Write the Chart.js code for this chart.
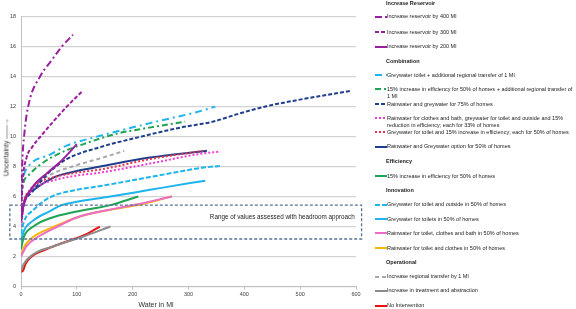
<!DOCTYPE html>
<html><head><meta charset="utf-8">
<script src="https://cdn.jsdelivr.net/npm/chart.js@4/dist/chart.umd.min.js"></script>
<style>
html,body{margin:0;padding:0;background:#fff;}
#wrap{position:relative;width:576px;height:309px;overflow:hidden;font-family:'Liberation Sans',Arial,sans-serif;}
#c{position:absolute;left:0;top:0;}
.lg{position:absolute;left:387px;font-size:5.5px;color:#222;line-height:7px;white-space:pre;}
.hd{font-weight:bold;left:386px;}
.sw{position:absolute;left:375px;}
#xt{position:absolute;left:156px;top:304px;transform:translate(-50%,-50%);font-size:7px;color:#333;white-space:nowrap;}
#yt{position:absolute;left:6px;top:147px;transform:translate(-50%,-50%) rotate(-90deg);font-size:7px;color:#333;white-space:nowrap;}
</style></head>
<body><div id="wrap"><canvas id="c" width="576" height="309"></canvas>
<div id="xt">Water in Ml</div><div id="yt">Uncertainty ——→</div></div>
<script>
// ---- data (x = Water in Ml, y = Uncertainty) ----
const reservoir400 = [[0,5],[2,8],[6,10.2],[14,12.2],[34,14],[55,15.1],[73,16],[93,16.8]];
const reservoir300 = [[0,4.5],[3,7],[10,8.6],[20,9.3],[37,10.1],[60,11.1],[82,12],[109,13]];
const reservoir200 = [[0,4.5],[5,5.5],[20,6.6],[48,7.6],[70,8.3],[88,9.0],[100,9.5]];
const greyTransfer = [[0,6.3],[5,7.4],[15,8.1],[52,8.8],[82,9.4],[136,10],[231,10.9],[321,11.7],[348,12]];
const effTransfer = [[0,6],[5,7],[13,7.4],[37,8.2],[70,8.9],[112,9.5],[172,10.2],[230,10.6],[294,11]];
const rainGrey75 = [[0,4.5],[5,5.5],[20,6.3],[50,7.6],[82,8.5],[142,9.3],[204,9.9],[285,10.6],[344,11],[392,11.55],[440,12.03],[494,12.43],[590,13.05]];
const rainClothesBath33 = [[0,4],[5,5.4],[15,6.2],[30,6.7],[60,7.1],[100,7.4],[142,7.6],[231,8.2],[321,8.85],[357,9.0]];
const greyToilet15 = [[0,4],[5,5.6],[15,6.4],[30,6.9],[60,7.3],[100,7.6],[142,7.8],[231,8.5],[326,9.05]];
const rainGrey50 = [[0,4.3],[5,5.6],[25,6.5],[60,7.3],[100,7.7],[142,8.0],[231,8.6],[333,9.05]];
const efficiency15 = [[0,2.5],[5,3.3],[22,4.0],[52,4.55],[100,5.0],[160,5.43],[210,6.0]];
const greyToiletOutside = [[0,3.5],[5,4.3],[22,5.1],[52,5.95],[100,6.45],[142,6.7],[231,7.3],[321,7.9],[357,8.05]];
const greyToilets = [[0,3],[5,3.7],[22,4.4],[50,5.0],[73,5.43],[100,5.65],[160,6.0],[231,6.45],[303,6.9],[330,7.05]];
const rainToiletClothesBath = [[0,2],[10,2.7],[30,3.3],[60,3.9],[100,4.6],[142,5.0],[204,5.45],[270,6.0]];
const rainToiletClothes = [[0,2],[5,2.6],[15,3.1],[30,3.5],[60,4.0],[100,4.6],[142,5.0],[204,5.4],[270,6.0]];
const regionalTransfer = [[0,4],[5,5.4],[20,6.5],[50,7.4],[100,8.1],[142,8.55],[185,9.05]];
const treatmentAbstraction = [[0,1],[5,1.5],[20,2.1],[60,2.7],[109,3.3],[160,4.0]];
const noIntervention = [[0,1],[3.5,1.05],[8,1.5],[16,1.9],[43,2.45],[70,2.85],[97,3.2],[120,3.55],[141,4.0]];

const xTicks = [0,100,200,300,400,500,600];
const yTicks = [0,2,4,6,8,10,12,14,16,18];
const headroomX = [-20,610];
const headroomY = [3.17,5.43];
const headroomLabel = 'Range of values assessed with headroom approach';

const groups = ['Increase Reservoir','Combination','Efficiency','Innovation','Operational'];
const series = [
 {g:0,label:'Increase reservoir by 400 Ml',data:reservoir400,color:'#9a1f9e',dash:[7,3,2,3]},
 {g:0,label:'Increase reservoir by 300 Ml',data:reservoir300,color:'#9a1f9e',dash:[4,2]},
 {g:0,label:'Increase reservoir by 200 Ml',data:reservoir200,color:'#9a1f9e',dash:[]},
 {g:1,label:'Greywater toilet + additional regional transfer of 1 Ml',data:greyTransfer,color:'#1eb4ec',dash:[7,4,2,4]},
 {g:1,label:'15% increase in efficiency for 50% of homes + additional regional transfer of\n1 Ml',data:effTransfer,color:'#1fa354',dash:[6,3,2,3]},
 {g:1,label:'Rainwater and greywater for 75% of homes',data:rainGrey75,color:'#1f3e8c',dash:[4,2]},
 {g:1,label:'Rainwater for clothes and bath, greywater for toilet and outside and 15%\nreduction in efficiency; each for 33% of homes',data:rainClothesBath33,color:'#f03cd2',dash:[2,2]},
 {g:1,label:'Greywater for toilet and 15% increase in efficiency; each for 50% of homes',data:greyToilet15,color:'#e8334f',dash:[2,2]},
 {g:1,label:'Rainwater and Greywater option for 50% of homes',data:rainGrey50,color:'#1f3e8c',dash:[]},
 {g:2,label:'15% increase in efficiency for 50% of homes',data:efficiency15,color:'#1fa354',dash:[]},
 {g:3,label:'Greywater for toilet and outside in 50% of homes',data:greyToiletOutside,color:'#1eb4ec',dash:[5,2]},
 {g:3,label:'Greywater for toilets in 50% of homes',data:greyToilets,color:'#1eb4ec',dash:[]},
 {g:3,label:'Rainwater for toilet, clothes and bath in 50% of homes',data:rainToiletClothesBath,color:'#ec6cc8',dash:[]},
 {g:3,label:'Rainwater for toilet and clothes in 50% of homes',data:rainToiletClothes,color:'#f5b800',dash:[]},
 {g:4,label:'Increase regional transfer by 1 Ml',data:regionalTransfer,color:'#a8a8a8',dash:[4,3]},
 {g:4,label:'Increase in treatment and abstraction',data:treatmentAbstraction,color:'#8c8c8c',dash:[]},
 {g:4,label:'No Intervention',data:noIntervention,color:'#ee1111',dash:[]}
];
// legend layout (pixel rows)
const headerRows = [3.5,61,161,190,262.5];
const itemRows = [16.7,32,46.7,75,89.3,104,118.3,132.3,146.7,176,204.6,219.3,233.3,248.3,276.7,290.7,305.7];

const datasets = series.map(s=>({
  label:s.label.replace('\n',' '),
  data:s.data.map(p=>({x:p[0],y:p[1]})),
  borderColor:s.color, backgroundColor:s.color,
  borderDash:s.dash, borderWidth:2, pointRadius:0,
  cubicInterpolationMode:'monotone', fill:false
}));

const headroom = {id:'headroom', afterDatasetsDraw(chart){
  const {ctx, scales:{x,y}} = chart;
  const l=x.getPixelForValue(headroomX[0]), r=x.getPixelForValue(headroomX[1]);
  const t=y.getPixelForValue(headroomY[1]), b=y.getPixelForValue(headroomY[0]);
  ctx.save(); ctx.setLineDash([3,2]); ctx.strokeStyle='#5a7396'; ctx.lineWidth=1.3;
  ctx.strokeRect(l,t,r-l,b-t);
  ctx.setLineDash([]); ctx.fillStyle='#222'; ctx.font='6.3px "Liberation Sans"';
  ctx.textAlign='center'; ctx.textBaseline='middle';
  ctx.fillText(headroomLabel, x.getPixelForValue(468), y.getPixelForValue(4.65));
  ctx.restore();
}};

new Chart(document.getElementById('c'),{
  type:'line', data:{datasets},
  options:{responsive:false, animation:false,
    layout:{padding:{left:0,right:220,top:16.7,bottom:0}},
    plugins:{legend:{display:false},tooltip:{enabled:false}},
    scales:{
      x:{type:'linear',min:0,max:600,
        afterBuildTicks:s=>{s.ticks=xTicks.map(v=>({value:v}));},
        afterFit:s=>{s.height=22.5;},
        ticks:{font:{size:5.5,family:'Liberation Sans'},color:'#404040',padding:2,maxRotation:0},
        grid:{drawOnChartArea:false,drawTicks:true,tickLength:3,color:'#bfbfbf'},
        border:{color:'#bfbfbf',width:1}},
      y:{min:0,max:18,
        afterBuildTicks:s=>{s.ticks=yTicks.map(v=>({value:v}));},
        afterFit:s=>{s.width=21;},
        ticks:{font:{size:5.5,family:'Liberation Sans'},color:'#404040',padding:5},
        grid:{color:'#d2d2d2',lineWidth:1.3,drawTicks:false},
        border:{color:'#bfbfbf',width:1}}
    }},
  plugins:[headroom]
});

// HTML legend
const wrap=document.getElementById('wrap');
groups.forEach((g,i)=>{const d=document.createElement('div');d.className='lg hd';d.textContent=g;d.style.top=(headerRows[i]-3.5)+'px';wrap.appendChild(d);});
series.forEach((s,i)=>{
  const yc=itemRows[i];
  const d=document.createElement('div');d.className='lg';d.textContent=s.label;d.style.top=(yc-3.5)+'px';wrap.appendChild(d);
  const svg=document.createElementNS('http://www.w3.org/2000/svg','svg');
  svg.setAttribute('width','12');svg.setAttribute('height','4');svg.setAttribute('class','sw');
  svg.style.top=(yc-2)+'px';
  const ln=document.createElementNS('http://www.w3.org/2000/svg','line');
  ln.setAttribute('x1','0');ln.setAttribute('x2','12');ln.setAttribute('y1','2');ln.setAttribute('y2','2');
  ln.setAttribute('stroke',s.color);ln.setAttribute('stroke-width','2');
  if(s.dash.length) ln.setAttribute('stroke-dasharray',s.dash.join(' '));
  svg.appendChild(ln);wrap.appendChild(svg);
});
</script></body></html>
